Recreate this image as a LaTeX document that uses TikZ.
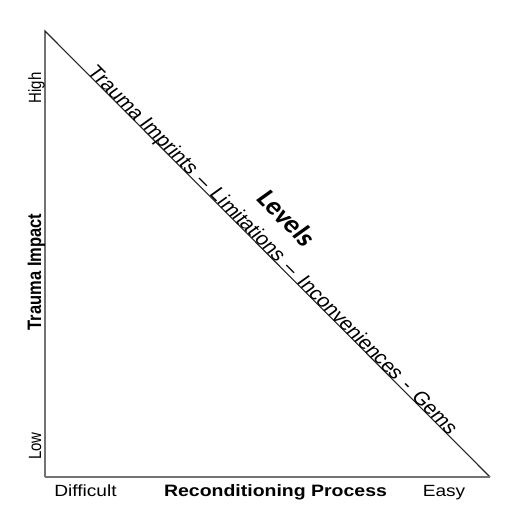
\documentclass[tikz,border=0pt]{standalone}
\usepackage{fontspec}
\setmainfont{Liberation Sans}
\newfontfamily\levelsfont{Carlito}

\tikzset{
  upright/.style={rotate=90, yscale=1.18},
  flat/.style={xscale=1.18},
  slant/.style={cm={0.7620,-0.7636,0.9010,0.6458,(0,0)}},
  ticklabel/.style={font=\fontsize{15}{18}\selectfont},
  bottomlabel/.style={font=\fontsize{16.2}{19}\selectfont},
  axislabel/.style={font=\bfseries\fontsize{16.5}{19}\selectfont},
}

\begin{document}
\begin{tikzpicture}[x=1pt, y=-1pt, every node/.append style={inner sep=0pt}]
  \useasboundingbox (0,0) rectangle (525,530);

  \coordinate (top) at (45, 31);
  \coordinate (corner) at (45, 477);
  \coordinate (right) at (490, 477);

  \draw[line width=1.1pt, black!85] (right) -- (top) -- (corner);
  \draw[line width=1.5pt, black!55] (corner) -- (right);

  % left side
  \node[ticklabel, upright, anchor=base] (high) at (41, 88) {High};
  \node[axislabel, upright, anchor=base] (impact) at (41, 272) {Trauma Impact};
  \node[ticklabel, upright, anchor=base] (low) at (41, 446) {Low};

  % bottom side
  \node[bottomlabel, flat, anchor=base] (difficult) at (85.5, 496) {Difficult};
  \node[axislabel, flat, anchor=base] (process) at (275.5, 496) {Reconditioning Process};
  \node[bottomlabel, flat, anchor=base] (easy) at (444, 496) {Easy};

  % along the slope
  \path (top) -- (right)
    node[slant, pos=0.5, anchor=base, font=\fontsize{18.6}{22}\selectfont] (steps)
      {Trauma Imprints\hspace{0.41em}–\hspace{0.41em}Limitations\hspace{0.41em}–\hspace{0.41em}Inconveniences\hspace{0.41em}-\hspace{0.41em}Gems};
  \node[slant, font=\levelsfont\bfseries\fontsize{25}{30}\selectfont] (levels) at (287, 218) {Levels};
\end{tikzpicture}
\end{document}
